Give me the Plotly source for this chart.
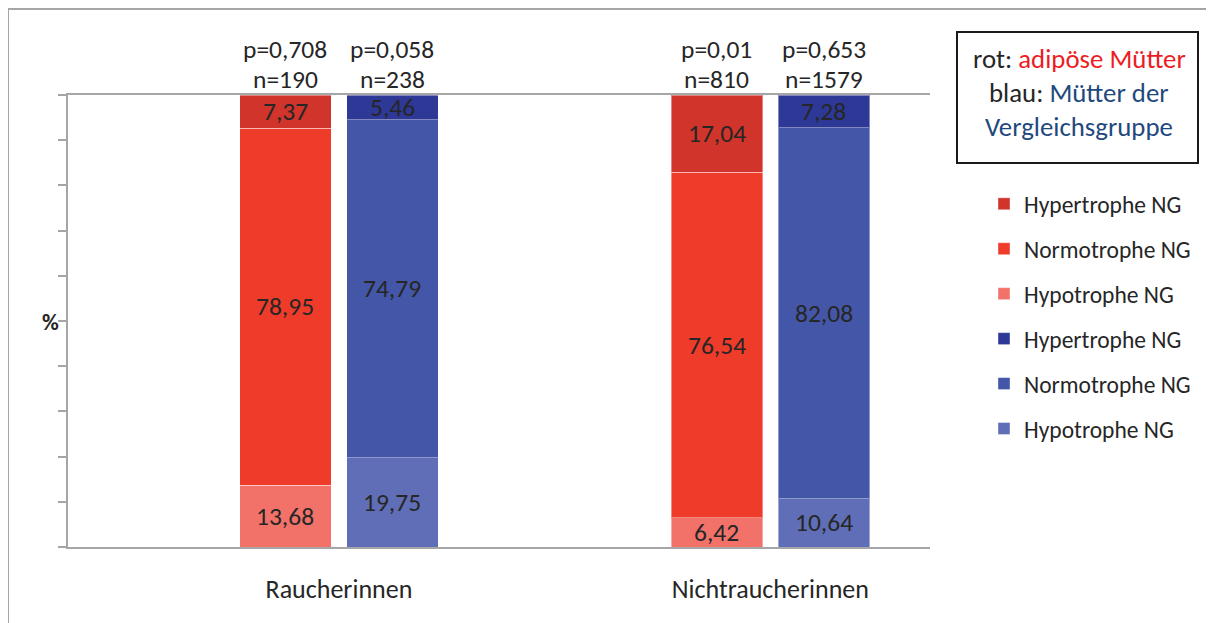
import plotly.graph_objects as go

# ---------------- data ----------------
categories = ["Raucherinnen", "Nichtraucherinnen"]

hypo_adipos = [13.68, 6.42]
normo_adipos = [78.95, 76.54]
hyper_adipos = [7.37, 17.04]

hypo_vergl = [19.75, 10.64]
normo_vergl = [74.79, 82.08]
hyper_vergl = [5.46, 7.28]

p_adipos = ["0,708", "0,01"]
n_adipos = ["190", "810"]
p_vergl = ["0,058", "0,653"]
n_vergl = ["238", "1579"]

series_names = ["Hypotrophe NG", "Normotrophe NG", "Hypertrophe NG"]

# ---------------- style ----------------
PAGE_OFF = 8  # default body margin of the html page
W, H = 1214 - PAGE_OFF, 623 - PAGE_OFF
ML, MR, MT, MB = 68 - PAGE_OFF, 284, 95 - PAGE_OFF, 76
PW, PH = W - ML - MR, H - MT - MB
FONT = "Carlito, Calibri, Lato, sans-serif"
AXIS_GREY = "#A6A6A6"
TEXT = "#262626"

red_cols = ["#F2726A", "#EF3B2A", "#D0342A"]
blue_cols = ["#5F6EB6", "#4356A7", "#2E3896"]

OFF = 0.124
BW = 0.212


def px_x(p):
    return (p - PAGE_OFF - ML) / PW


def px_y(p):
    return (H - MB - (p - PAGE_OFF)) / PH


fig = go.Figure()

x_idx = list(range(len(categories)))
x_red = [i - OFF for i in x_idx]
x_blue = [i + OFF for i in x_idx]

red_series = [hypo_adipos, normo_adipos, hyper_adipos]
blue_series = [hypo_vergl, normo_vergl, hyper_vergl]

rank = {"Hypertrophe NG": 1, "Normotrophe NG": 2, "Hypotrophe NG": 3}

annotations = []

for grp, series, cols, base_rank in (("r", red_series, red_cols, 0), ("b", blue_series, blue_cols, 3)):
    xs = x_red if grp == "r" else x_blue
    base = [0.0] * len(xs)
    for k, (vals, col) in enumerate(zip(series, cols)):
        fig.add_trace(go.Bar(
            x=xs, y=vals, width=BW, name=series_names[k],
            marker=dict(color=col, line=dict(color="rgba(255,255,255,0.4)", width=1)),
            textposition="none",
            legendgroup=f"{grp}{k}", legendrank=base_rank + rank[series_names[k]],
            hoverinfo="skip",
        ))
        # value labels centred in each stacked segment
        for j, v in enumerate(vals):
            annotations.append(dict(
                x=xs[j], y=base[j] + v / 2, xref="x", yref="y",
                text=f"{v:.2f}".replace(".", ","), showarrow=False,
                xanchor="center", yanchor="middle", borderpad=0,
                font=dict(size=25.5, color=TEXT, family=FONT)))
            base[j] += v

for i in x_idx:
    for xx, p, n in ((x_red[i], p_adipos[i], n_adipos[i]), (x_blue[i], p_vergl[i], n_vergl[i])):
        annotations.append(dict(x=xx, y=100, xref="x", yref="y", text=f"p={p}",
                                showarrow=False, yanchor="middle", yshift=46, borderpad=0,
                                font=dict(size=25.5, color=TEXT, family=FONT)))
        annotations.append(dict(x=xx, y=100, xref="x", yref="y", text=f"n={n}",
                                showarrow=False, yanchor="middle", yshift=16, borderpad=0,
                                font=dict(size=25.5, color=TEXT, family=FONT)))

# "%" axis label
annotations.append(dict(x=px_x(50), y=px_y(322), xref="paper", yref="paper", text="<b>%</b>",
                        showarrow=False, xanchor="center", yanchor="middle",
                        font=dict(size=23, color=TEXT, family=FONT)))

# info box text
box_cx = px_x(1079)
info_lines = [
    "rot: <span style='color:#ED1C24'>adipöse Mütter</span>",
    "blau: <span style='color:#1F497D'>Mütter der</span>",
    "<span style='color:#1F497D'>Vergleichsgruppe</span>",
]
for line, py in zip(info_lines, [58, 92, 126]):
    annotations.append(dict(x=box_cx, y=px_y(py), xref="paper", yref="paper", text=line,
                            showarrow=False, xanchor="center", yanchor="middle",
                            font=dict(size=26.8, color=TEXT, family=FONT)))

shapes = [
    # outer frame (left and top edges)
    dict(type="path", xref="paper", yref="paper",
         path=f"M {px_x(8)},{px_y(640)} L {px_x(8)},{px_y(9)} L {px_x(1230)},{px_y(9)}",
         line=dict(color=AXIS_GREY, width=2)),
    # info box
    dict(type="rect", xref="paper", yref="paper",
         x0=px_x(957), x1=px_x(1198), y0=px_y(163), y1=px_y(32),
         line=dict(color="#1A1A1A", width=2), fillcolor="rgba(0,0,0,0)"),
]

fig.update_layout(
    width=W, height=H,
    margin=dict(l=ML, r=MR, t=MT, b=MB, pad=0),
    barmode="stack",
    plot_bgcolor="white", paper_bgcolor="white",
    font=dict(family=FONT, color=TEXT),
    xaxis=dict(
        range=[-0.628, 1.37], tickvals=x_idx, ticktext=categories,
        showgrid=False, zeroline=False, ticks="",
        showline=True, mirror=True, linecolor=AXIS_GREY, linewidth=2,
        tickfont=dict(size=26, color=TEXT, family=FONT),
        ticklabelstandoff=18,
    ),
    yaxis=dict(
        range=[0, 100], dtick=10, showgrid=False, zeroline=False,
        showticklabels=False, ticks="outside", ticklen=8, tickwidth=2,
        tickcolor=AXIS_GREY, showline=True, linecolor=AXIS_GREY, linewidth=2,
    ),
    legend=dict(
        x=px_x(984), y=px_y(182), xanchor="left", yanchor="top",
        traceorder="grouped", tracegroupgap=11.4,
        font=dict(size=23.5, color=TEXT, family=FONT),
        itemwidth=30, bgcolor="rgba(0,0,0,0)",
    ),
    annotations=annotations,
    shapes=shapes,
)

fig.write_html("out.html")
